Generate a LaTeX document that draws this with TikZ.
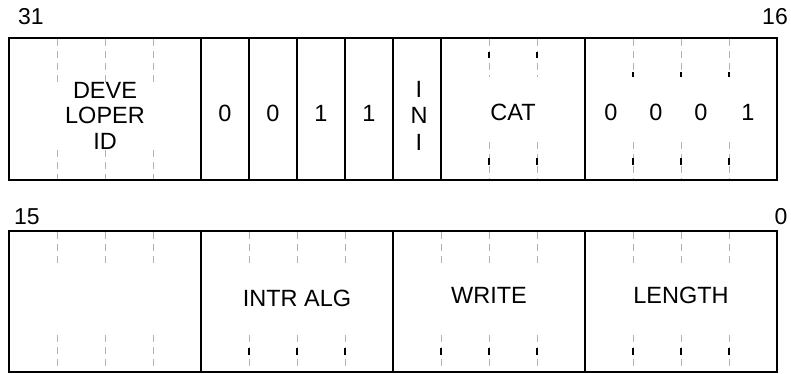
\documentclass[tikz,border=0pt]{standalone}
\usepackage{fontspec}
\setmainfont{Liberation Sans}
\begin{document}
\begin{tikzpicture}[x=1pt,y=-1pt,
  frame/.style={draw=black, line width=2pt},
  gdash/.style={draw=black!30, line width=0.8pt, dash pattern=on 7pt off 5pt},
  btick/.style={draw=black, line width=1.3pt},
  lbl/.style={font=\fontsize{23.5}{26}\selectfont, inner sep=0pt, align=center},
  bitnum/.style={font=\fontsize{23}{26}\selectfont, inner sep=0pt}]
\useasboundingbox (0,0) rectangle (791,374);
% row 1 frame
\draw[frame] (9,38) rectangle (777,180);
\foreach \x in {201,249,297,345,393,441,585} \draw[frame] (\x,38) -- (\x,180);
% row 2 frame
\draw[frame] (9,231) rectangle (777,372);
\foreach \x in {201,393,585} \draw[frame] (\x,231) -- (\x,372);
% row 1 dashed bit lines
\foreach \x in {57,105,153} {
  \draw[gdash] (\x,39) -- (\x,85);
  \draw[gdash] (\x,150) -- (\x,179);
}
\foreach \x in {489,537,633,681,729} {
  \draw[gdash] (\x,39) -- (\x,77);
  \draw[gdash] (\x,142) -- (\x,179);
}
\foreach \x in {489,537} {
  \draw[btick] (\x,52) -- (\x,58);
  \draw[btick] (\x,158) -- (\x,165);
}
\foreach \x in {633,681,729} {
  \draw[btick] (\x,72) -- (\x,77);
  \draw[btick] (\x,158) -- (\x,165);
}
% row 2 dashed bit lines
\foreach \x in {57,105,153,249,297,345,441,489,537,633,681,729} {
  \draw[gdash] (\x,232) -- (\x,267);
  \draw[gdash] (\x,335) -- (\x,371);
}
\foreach \x in {249,297,345,441,489,537,633,681,729} {
  \draw[btick] (\x,348) -- (\x,355);
}
% bit numbers
\node[bitnum] (b31) at (31,17) {31};
\node[bitnum] (b16) at (775,17) {16};
\node[bitnum] (b15) at (27,217) {15};
\node[bitnum] (b0) at (781,217) {0};
% row 1 labels
\node[lbl] (dev1) at (105,90) {DEVE};
\node[lbl] (dev2) at (105,115) {LOPER};
\node[lbl] (dev3) at (105,141) {ID};
\node[lbl] (f1) at (225,113) {0};
\node[lbl] (f2) at (273,113) {0};
\node[lbl] (f3) at (321,113) {1};
\node[lbl] (f4) at (369,113) {1};
\node[lbl] (ini1) at (419,89) {I};
\node[lbl] (ini2) at (419,115) {N};
\node[lbl] (ini3) at (419,142) {I};
\node[lbl] (cat) at (513,112) {CAT};
\node[lbl] (c1) at (611,112) {0};
\node[lbl] (c2) at (656,112) {0};
\node[lbl] (c3) at (701,112) {0};
\node[lbl] (c4) at (748,112) {1};
% row 2 labels
\node[lbl] (intr) at (297,298) {INTR ALG};
\node[lbl] (write) at (489,295) {WRITE};
\node[lbl] (length) at (681,295) {LENGTH};
\end{tikzpicture}
\end{document}
